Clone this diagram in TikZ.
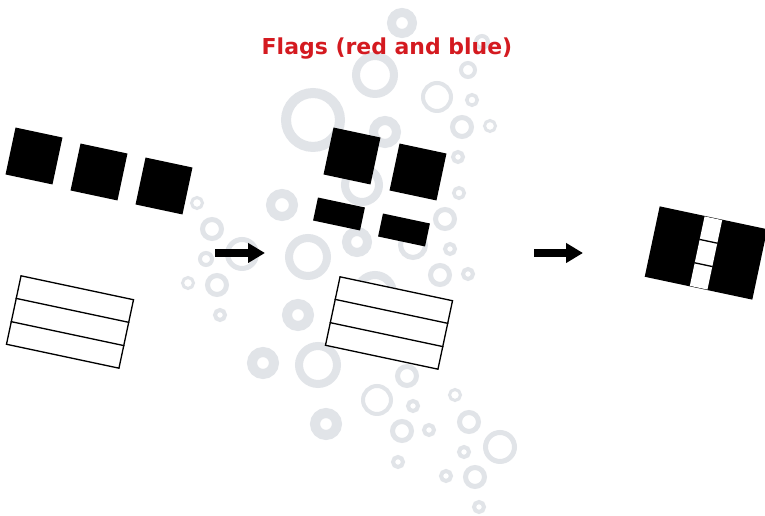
\documentclass[tikz,border=0pt]{standalone}
\usepackage{fontspec}
\newfontfamily\titlefont{DejaVu Sans}
\usetikzlibrary{arrows.meta, positioning, calc}
\definecolor{ringgray}{RGB}{225,228,232}
\definecolor{titlered}{RGB}{212,26,32}

\begin{document}
\begin{tikzpicture}[
    x=0.02cm, y=-0.02cm,
    ring/.style={draw=ringgray},
    square/.style={fill=black, inner sep=0pt, minimum size=0.96cm, rotate=-12},
    bar/.style={fill=black, inner sep=0pt, minimum width=0.96cm, minimum height=0.47cm, rotate=-12},
    stripes/.style={draw, line width=0.75pt, fill=white, inner sep=0pt, minimum width=2.3cm, minimum height=1.4cm, rotate=-12},
    stripeline/.style={line width=0.75pt},
    bigarrow/.style={-{Triangle[length=0.34cm, width=0.38cm]}, line width=0.16cm}
]
    \path[fill=white, use as bounding box] (0,0) rectangle (765,516);

    % Background rings
    \foreach \cx/\cy/\ro/\ri in {402/23/15/6, 375/75/23/15, 468/70/9/5, 482/42/8/4,
        437/97/16/12, 472/100/7/3.5, 313/120/32/22, 385/132/16/7, 462/127/12/7,
        490/126/7/4, 458/157/7/3, 362/185/21/13, 459/193/7/3.5, 197/203/7/4,
        212/229/12/7, 282/205/16/7, 242/254/17/12, 206/259/8/4, 445/219/12/7,
        308/257/23/15, 357/242/15/6, 413/245/15/10, 450/249/7/3, 188/283/7/4,
        217/285/12/7, 440/275/12/7, 468/274/7/3, 375/293/22/14, 220/315/7/3,
        298/315/16/6, 263/363/16/6, 318/365/23/15, 407/376/12/7, 377/400/16/12,
        413/406/7/3, 455/395/7/4, 326/424/16/6, 402/431/12/7, 429/430/7/3,
        469/422/12/7, 500/447/17/12, 464/452/7/3, 398/462/7/3, 446/476/7/3,
        475/477/12/7, 479/507/7/3}
        \draw[ring, line width={(\ro-\ri)*0.02cm}] (\cx,\cy) circle[radius={(\ro+\ri)*0.01cm}];

    % Title
    \node[font=\titlefont\bfseries\fontsize{12.5}{15}\selectfont, text=titlered, anchor=base] (title) at (387,55) {Flags (red and blue)};

    % Left group
    \node[square] (sqa) at (34,156) {};
    \node[square] (sqb) at (99,172) {};
    \node[square] (sqc) at (164,186) {};
    \node[stripes] (stripesL) at (70,322) {};
    \draw[stripeline] ($(stripesL.north west)!1/3!(stripesL.south west)$) -- ($(stripesL.north east)!1/3!(stripesL.south east)$);
    \draw[stripeline] ($(stripesL.north west)!2/3!(stripesL.south west)$) -- ($(stripesL.north east)!2/3!(stripesL.south east)$);

    % Middle group
    \node[square] (sqd) at (352,156) {};
    \node[square] (sqe) at (418,172) {};
    \node[bar] (barf) at (339,214) {};
    \node[bar] (barg) at (404,230) {};
    \node[stripes] (stripesM) at (389,323) {};
    \draw[stripeline] ($(stripesM.north west)!1/3!(stripesM.south west)$) -- ($(stripesM.north east)!1/3!(stripesM.south east)$);
    \draw[stripeline] ($(stripesM.north west)!2/3!(stripesM.south west)$) -- ($(stripesM.north east)!2/3!(stripesM.south east)$);

    % Right group
    \node[fill=black, inner sep=0pt, minimum width=2.2cm, minimum height=1.44cm, rotate=-12] (merged) at (706,253) {};
    \node[fill=white, inner sep=0pt, minimum width=0.36cm, minimum height=1.42cm, rotate=-12] (strip) at (merged.center) {};
    \draw[stripeline] ($(strip.north west)!1/3!(strip.south west)$) -- ($(strip.north east)!1/3!(strip.south east)$);
    \draw[stripeline] ($(strip.north west)!2/3!(strip.south west)$) -- ($(strip.north east)!2/3!(strip.south east)$);

    % Arrows
    \coordinate (arrAs) at (215,253);
    \coordinate (arrAe) at (265,253);
    \coordinate (arrBs) at (534,253);
    \coordinate (arrBe) at (583,253);
    \draw[bigarrow] (arrAs) -- (arrAe);
    \draw[bigarrow] (arrBs) -- (arrBe);

\end{tikzpicture}
\end{document}
